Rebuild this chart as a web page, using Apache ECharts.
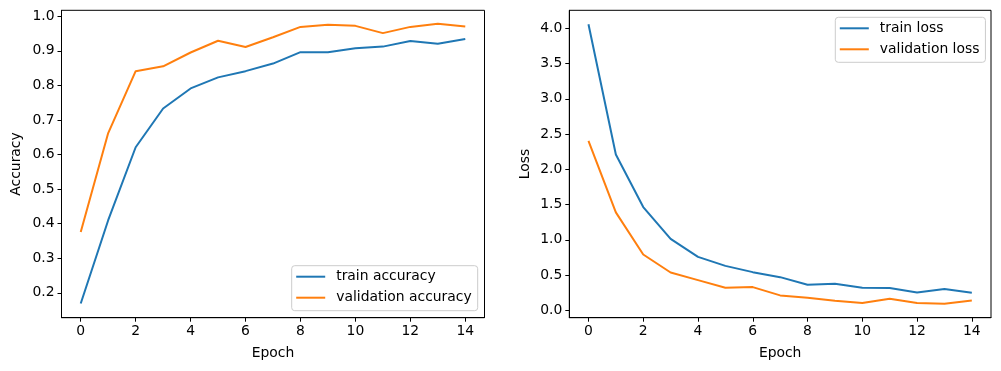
<!DOCTYPE html>
<html>
<head>
<meta charset="utf-8">
<script src="https://cdn.jsdelivr.net/npm/echarts@6/dist/echarts.min.js"></script>
<style>
html,body{margin:0;padding:0;background:#fff;}
#chart{width:1001px;height:371px;}
</style>
</head>
<body>
<div id="chart"></div>
<script>
const epochs = [0,1,2,3,4,5,6,7,8,9,10,11,12,13,14];
const trainAcc = [0.169,0.41,0.621,0.733,0.791,0.823,0.841,0.863,0.896,0.896,0.907,0.912,0.928,0.920,0.934];
const valAcc = [0.376,0.662,0.841,0.855,0.895,0.929,0.911,0.939,0.969,0.975,0.972,0.951,0.969,0.978,0.970];
const trainLoss = [4.057,2.21,1.465,1.013,0.759,0.631,0.542,0.471,0.363,0.377,0.320,0.316,0.254,0.302,0.250];
const valLoss = [2.403,1.39,0.792,0.537,0.429,0.320,0.330,0.212,0.179,0.137,0.104,0.165,0.104,0.094,0.141];
const xTicks = [0,2,4,6,8,10,12,14];
const accTicks = [0.2,0.3,0.4,0.5,0.6,0.7,0.8,0.9,1.0];
const lossTicks = [0.0,0.5,1.0,1.5,2.0,2.5,3.0,3.5,4.0];

const FONT = 'DejaVu Sans';
const FS = 13.9;
const BLUE = '#1f77b4', ORANGE = '#ff7f0e';

function pairs(xs, ys){ return xs.map((x,i)=>[x, ys[i]]); }

function xAxis(gi){
  return {
    type:'value', gridIndex:gi, min:-0.7, max:14.7,
    name:'Epoch', nameLocation:'middle', nameGap:29,
    nameTextStyle:{fontFamily:FONT,fontSize:FS,color:'#000'},
    axisLine:{show:true,onZero:false,lineStyle:{color:'#000',width:1}},
    axisTick:{show:true,length:4,customValues:xTicks,lineStyle:{color:'#000',width:1}},
    axisLabel:{customValues:xTicks,margin:7,fontFamily:FONT,fontSize:FS,color:'#000',formatter:v=>String(v)},
    splitLine:{show:false}
  };
}
function yAxis(gi,name,min,max,ticks,gap){
  return {
    type:'value', gridIndex:gi, min:min, max:max,
    name:name, nameLocation:'middle', nameGap:gap, nameRotate:90,
    nameTextStyle:{fontFamily:FONT,fontSize:FS,color:'#000'},
    axisLine:{show:true,onZero:false,lineStyle:{color:'#000',width:1}},
    axisTick:{show:true,length:4,customValues:ticks,lineStyle:{color:'#000',width:1}},
    axisLabel:{customValues:ticks,margin:7,fontFamily:FONT,fontSize:FS,color:'#000',formatter:v=>v.toFixed(1)},
    splitLine:{show:false}
  };
}
function legend(names,left,top){
  return {
    data:names, orient:'vertical', left:left, top:top,
    icon:'rect', itemWidth:29, itemHeight:2, itemGap:5,
    padding:[3,6,5,4.5],
    backgroundColor:'rgba(255,255,255,0.8)', borderColor:'#cccccc', borderWidth:1, borderRadius:3,
    textStyle:{fontFamily:FONT,fontSize:FS,color:'#000',lineHeight:16,padding:[0,0,0,6]}
  };
}
function line(name,data,color,xi,yi){
  return {
    name:name, type:'line', data:data, xAxisIndex:xi, yAxisIndex:yi,
    showSymbol:false, symbol:'none', lineStyle:{color:color,width:2}, itemStyle:{color:color},
    animation:false, clip:false
  };
}

const chart = echarts.init(document.getElementById('chart'), null, {renderer:'canvas'});
chart.setOption({
  backgroundColor:'#fff',
  animation:false,
  grid:[
    {left:61.5,top:10.3,width:423,height:307.4,show:true,borderColor:'#000',borderWidth:1,backgroundColor:'transparent'},
    {left:569.3,top:10.3,width:421.7,height:307.4,show:true,borderColor:'#000',borderWidth:1,backgroundColor:'transparent'}
  ],
  xAxis:[xAxis(0), xAxis(1)],
  yAxis:[
    yAxis(0,'Accuracy',0.128,1.017,accTicks,38),
    yAxis(1,'Loss',-0.104,4.255,lossTicks,37)
  ],
  legend:[
    legend(['train accuracy','validation accuracy'],291.7,265.7),
    legend(['train loss','validation loss'],835.3,17.3)
  ],
  series:[
    line('train accuracy',pairs(epochs,trainAcc),BLUE,0,0),
    line('validation accuracy',pairs(epochs,valAcc),ORANGE,0,0),
    line('train loss',pairs(epochs,trainLoss),BLUE,1,1),
    line('validation loss',pairs(epochs,valLoss),ORANGE,1,1)
  ]
});
</script>
</body>
</html>
